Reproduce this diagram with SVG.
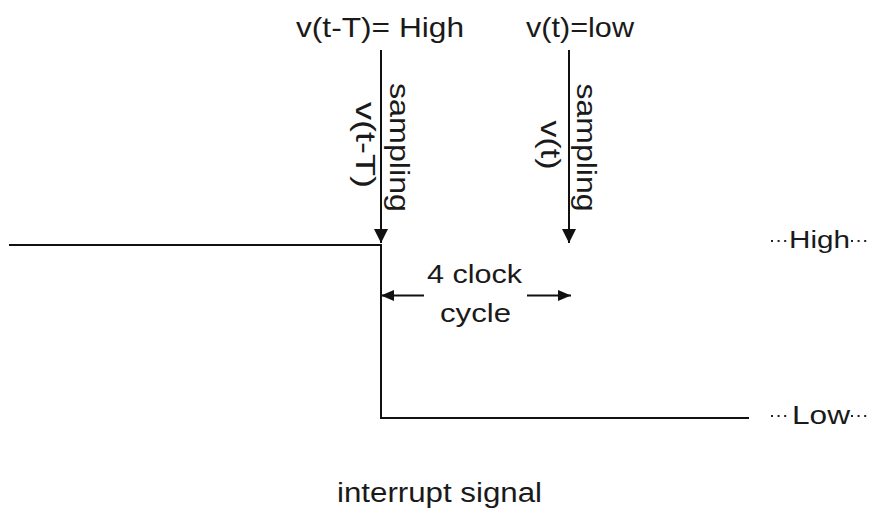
<svg xmlns="http://www.w3.org/2000/svg" width="869" height="508" viewBox="0 0 869 508">
<style>
text{font-family:"Liberation Sans",Arial,sans-serif;fill:#1a1a1a}
.ln{stroke:#111;stroke-width:2;fill:none}
.dot{stroke:#222;stroke-width:2;stroke-dasharray:2 4.6;fill:none}
</style>
<defs>
<marker id="ah" markerUnits="userSpaceOnUse" markerWidth="14" markerHeight="14" refX="14" refY="7" orient="auto">
<path d="M0,0 L14,7 L0,14 z" fill="#111"/>
</marker>
<marker id="ahs" markerUnits="userSpaceOnUse" markerWidth="13" markerHeight="11" refX="13" refY="5.5" orient="auto">
<path d="M0,0 L13,5.5 L0,11 z" fill="#111"/>
</marker>
</defs>
<rect width="869" height="508" fill="#fff"/>
<g id="signal">
<path class="ln" d="M9,245 H381 V418 H749"/>
</g>
<g id="connectors">
<line class="ln" x1="381" y1="50" x2="381" y2="243" marker-end="url(#ah)"/>
<line class="ln" x1="569" y1="50" x2="569" y2="243" marker-end="url(#ah)"/>
<line class="ln" x1="424" y1="295.5" x2="381" y2="295.5" marker-end="url(#ahs)"/>
<line class="ln" x1="527" y1="295.5" x2="571" y2="295.5" marker-end="url(#ahs)"/>
</g>
<g id="label-prev">
<text x="296" y="36.5" font-size="28" textLength="168" lengthAdjust="spacingAndGlyphs">v(t-T)= High</text>
</g>
<g id="label-now">
<text x="526" y="36.5" font-size="28" textLength="108" lengthAdjust="spacingAndGlyphs">v(t)=low</text>
</g>
<g id="sample-prev">
<text transform="translate(390,147.5) rotate(90)" x="0" y="0" font-size="28" text-anchor="middle" textLength="129" lengthAdjust="spacingAndGlyphs">sampling</text>
<text transform="translate(356,145) rotate(90)" x="0" y="0" font-size="28" text-anchor="middle" textLength="86" lengthAdjust="spacingAndGlyphs">v(t-T)</text>
</g>
<g id="sample-now">
<text transform="translate(577,147.5) rotate(90)" x="0" y="0" font-size="28" text-anchor="middle" textLength="128" lengthAdjust="spacingAndGlyphs">sampling</text>
<text transform="translate(541,145) rotate(90)" x="0" y="0" font-size="28" text-anchor="middle" textLength="49" lengthAdjust="spacingAndGlyphs">v(t)</text>
</g>
<g id="clock-label">
<text x="427" y="283" font-size="26" textLength="95" lengthAdjust="spacingAndGlyphs">4 clock</text>
<text x="440" y="322" font-size="26" textLength="71" lengthAdjust="spacingAndGlyphs">cycle</text>
</g>
<g id="level-high">
<line class="dot" x1="771" y1="241" x2="788" y2="241"/>
<text x="789" y="248" font-size="23" textLength="61" lengthAdjust="spacingAndGlyphs">High</text>
<line class="dot" x1="851" y1="241" x2="868" y2="241"/>
</g>
<g id="level-low">
<line class="dot" x1="771" y1="416" x2="788" y2="416"/>
<text x="792" y="424" font-size="26" textLength="58" lengthAdjust="spacingAndGlyphs">Low</text>
<line class="dot" x1="851" y1="416" x2="868" y2="416"/>
</g>
<g id="caption">
<text x="337" y="502" font-size="27" textLength="205" lengthAdjust="spacingAndGlyphs">interrupt signal</text>
</g>
</svg>
